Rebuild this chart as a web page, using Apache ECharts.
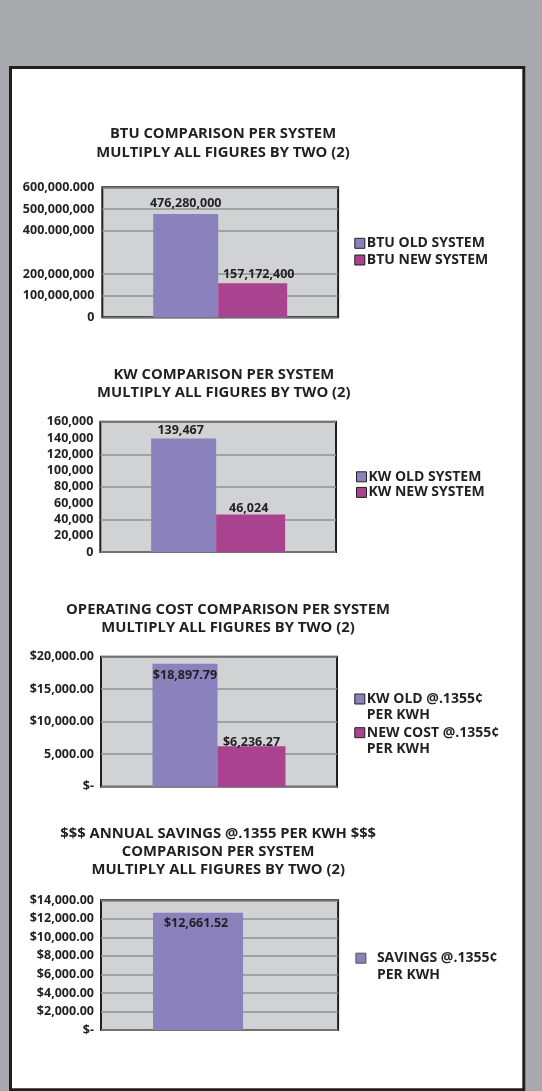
<!DOCTYPE html>
<html>
<head>
<meta charset="utf-8">
<script src="https://cdn.jsdelivr.net/npm/echarts@6/dist/echarts.min.js"></script>
<style>
html,body{margin:0;padding:0;background:#a8a9ad;}
#c{width:542px;height:1091px;}
</style>
</head>
<body>
<div id="c"></div>
<script>
// ---- Data ----
const btuNames = ['BTU OLD SYSTEM', 'BTU NEW SYSTEM'];
const btuValues = [476280000, 157172400];
const btuTicks = [0, 100000000, 200000000, 400000000, 500000000, 600000000];
const btuTickLabels = ['0', '100,000,000', '200,000,000', '400.000,000', '500,000,000', '600,000.000'];

const kwNames = ['KW OLD SYSTEM', 'KW NEW SYSTEM'];
const kwValues = [139467, 46024];
const kwTicks = [0, 20000, 40000, 60000, 80000, 100000, 120000, 140000, 160000];
const kwTickLabels = ['0', '20,000', '40,000', '60,000', '80,000', '100,000', '120,000', '140,000', '160,000'];

const costNames = ['KW OLD @.1355\u00a2\nPER KWH', 'NEW COST @.1355\u00a2\nPER KWH'];
const costValues = [18897.79, 6236.27];
const costTicks = [0, 5000, 10000, 15000, 20000];
const costTickLabels = ['$-', '5,000.00', '$10,000.00', '$15,000.00', '$20,000.00'];

const savingsNames = ['SAVINGS @.1355\u00a2\nPER KWH'];
const savingsValues = [12661.52];
const savingsTicks = [0, 2000, 4000, 6000, 8000, 10000, 12000, 14000];
const savingsTickLabels = ['$-', '$2,000.00', '$4,000.00', '$6,000.00', '$8,000.00', '$10,000.00', '$12,000.00', '$14,000.00'];

const titles = [
  'BTU COMPARISON PER SYSTEM\nMULTIPLY ALL FIGURES BY TWO (2)',
  'KW COMPARISON PER SYSTEM\nMULTIPLY ALL FIGURES BY TWO (2)',
  'OPERATING COST COMPARISON PER SYSTEM\nMULTIPLY ALL FIGURES BY TWO (2)',
  '$$$ ANNUAL SAVINGS @.1355 PER KWH $$$\nCOMPARISON PER SYSTEM\nMULTIPLY ALL FIGURES BY TWO (2)'
];

// ---- Styles ----
const FONT = '"Open Sans", "Liberation Sans", sans-serif';
const INK = '#231f20';
const PURPLE = '#8a81bd';
const MAGENTA = '#a94390';
const PLOTBG = '#d1d2d4';
const GRIDC = '#8f9093';

function commas(n, dec) {
  const parts = n.toFixed(dec).split('.');
  parts[0] = parts[0].replace(/\B(?=(\d{3})+(?!\d))/g, ',');
  return parts.join('.');
}
function tickFmt(ticks, labels) {
  return function (v) { const i = ticks.indexOf(v); return i >= 0 ? labels[i] : ''; };
}

const gridBox = [
  {left: 102.3, top: 187.3, width: 235.8, height: 130},
  {left: 100.3, top: 421.7, width: 235.7, height: 130.3},
  {left: 101, top: 656.7, width: 236, height: 130},
  {left: 101, top: 900.3, width: 237.1, height: 129.7}
];
const grids = gridBox.map(g => Object.assign({
  show: true, backgroundColor: PLOTBG, borderColor: INK, borderWidth: 2, containLabel: false
}, g));

const xAxes = [0, 1, 2, 3].map(i => ({
  type: 'category', gridIndex: i, data: ['a'], show: false
}));

const tickLabelStyle = {color: INK, fontFamily: FONT, fontWeight: 'bold', fontSize: 12.5};

const yAxes = [
  {type: 'value', gridIndex: 0, min: 0, max: 600000000,
    axisLine: {show: false}, axisTick: {show: false, customValues: btuTicks},
    axisLabel: Object.assign({margin: 8, customValues: btuTicks, formatter: tickFmt(btuTicks, btuTickLabels)}, tickLabelStyle),
    splitLine: {show: true, lineStyle: {color: GRIDC, width: 1.5}}},
  {type: 'value', gridIndex: 1, min: 0, max: 160000, interval: 20000,
    axisLine: {show: false}, axisTick: {show: false},
    axisLabel: Object.assign({margin: 7, formatter: tickFmt(kwTicks, kwTickLabels)}, tickLabelStyle),
    splitLine: {show: false}},
  {type: 'value', gridIndex: 1, min: 0, max: 160000, interval: 40000,
    axisLine: {show: false}, axisTick: {show: false}, axisLabel: {show: false},
    splitLine: {show: true, lineStyle: {color: GRIDC, width: 1.5}}},
  {type: 'value', gridIndex: 2, min: 0, max: 20000, interval: 5000,
    axisLine: {show: false}, axisTick: {show: false},
    axisLabel: Object.assign({margin: 7, formatter: tickFmt(costTicks, costTickLabels)}, tickLabelStyle),
    splitLine: {show: true, lineStyle: {color: GRIDC, width: 1.5}}},
  {type: 'value', gridIndex: 3, min: 0, max: 14000, interval: 2000,
    axisLine: {show: false}, axisTick: {show: false},
    axisLabel: Object.assign({margin: 7, formatter: tickFmt(savingsTicks, savingsTickLabels)}, tickLabelStyle),
    splitLine: {show: true, lineStyle: {color: GRIDC, width: 1.5}}}
];

const valLabel = (fmt, extra) => Object.assign({
  show: true, color: INK, fontFamily: FONT, fontWeight: 'bold', fontSize: 12.5, formatter: p => fmt(p.value)
}, extra);

const series = [
  {type: 'bar', name: btuNames[0], xAxisIndex: 0, yAxisIndex: 0, data: [btuValues[0]], barWidth: 65, barGap: 0,
    itemStyle: {color: PURPLE}, label: valLabel(v => commas(v, 0), {position: 'top', distance: 4})},
  {type: 'bar', name: btuNames[1], xAxisIndex: 0, yAxisIndex: 0, data: [btuValues[1]], barWidth: 69, barGap: 0,
    itemStyle: {color: MAGENTA}, label: valLabel(v => commas(v, 0), {position: 'top', distance: 2, offset: [6, 0]})},
  {type: 'bar', name: kwNames[0], xAxisIndex: 1, yAxisIndex: 1, data: [kwValues[0]], barWidth: 65, barGap: 0,
    itemStyle: {color: PURPLE}, label: valLabel(v => commas(v, 0), {position: 'top', distance: 1, offset: [-3, 0]})},
  {type: 'bar', name: kwNames[1], xAxisIndex: 1, yAxisIndex: 1, data: [kwValues[1]], barWidth: 69, barGap: 0,
    itemStyle: {color: MAGENTA}, label: valLabel(v => commas(v, 0), {position: 'top', distance: 0, offset: [-2, 0]})},
  {type: 'bar', name: costNames[0], xAxisIndex: 2, yAxisIndex: 3, data: [costValues[0]], barWidth: 65, barGap: 0,
    itemStyle: {color: PURPLE}, label: valLabel(v => '$' + commas(v, 2), {position: 'insideTop', distance: 5})},
  {type: 'bar', name: costNames[1], xAxisIndex: 2, yAxisIndex: 3, data: [costValues[1]], barWidth: 68, barGap: 0,
    itemStyle: {color: MAGENTA}, label: valLabel(v => '$' + commas(v, 2), {position: 'top', distance: -3})},
  {type: 'bar', name: savingsNames[0], xAxisIndex: 3, yAxisIndex: 4, data: [savingsValues[0]], barWidth: 90, barGap: 0,
    itemStyle: {color: PURPLE}, label: valLabel(v => '$' + commas(v, 2), {position: 'insideTop', distance: 4, offset: [-2, 0]})},
  // empty slot so the single bar sits left of centre as in the original
  {type: 'bar', name: 'slot', xAxisIndex: 3, yAxisIndex: 4, data: ['-'], barWidth: 43, barGap: 0, silent: true}
];

const titleBoxes = [
  {left: 223, top: 124.6, lh: 18.7},
  {left: 223.8, top: 365.8, lh: 18.3},
  {left: 228, top: 600.8, lh: 18.3},
  {left: 218.2, top: 824.3, lh: 18}
];
const titleComps = titles.map((t, i) => ({
  text: t, left: titleBoxes[i].left, top: titleBoxes[i].top, textAlign: 'center', padding: 0,
  textStyle: {color: INK, fontFamily: FONT, fontWeight: 'bold', fontSize: 14.8, lineHeight: titleBoxes[i].lh}
}));

const legendText = (lh, pad) => ({color: INK, fontFamily: FONT, fontWeight: 'bold', fontSize: 14, lineHeight: lh, padding: pad});
const legendBase = {orient: 'vertical', padding: 0, itemWidth: 10, itemHeight: 10, icon: 'rect', selectedMode: false,
  itemStyle: {borderColor: INK, borderWidth: 1}};
// a blank first line keeps the swatch level with the first line of a two-line entry
const firstLineAligned = name => '\n' + name;
const legends = [
  Object.assign({}, legendBase, {data: btuNames, left: 354.3, top: 235.3, itemGap: 0.7, textStyle: legendText(16, [0, 0, 0, -3])}),
  Object.assign({}, legendBase, {data: kwNames, left: 356, top: 469, itemGap: 0, textStyle: legendText(15.6, [0, 0, 0, -3])}),
  Object.assign({}, legendBase, {data: costNames, left: 354.3, top: 675, itemGap: -14.3, formatter: firstLineAligned,
    textStyle: legendText(16, [0, 0, 0, -3])}),
  Object.assign({}, legendBase, {data: savingsNames, left: 355.4, top: 932.7, itemGap: 0, formatter: firstLineAligned,
    textStyle: legendText(17, [0, 0, 0, 6]),
    itemStyle: {borderColor: '#55535a', borderWidth: 1}})
];

const chart = echarts.init(document.getElementById('c'), null, {renderer: 'canvas'});
chart.setOption({
  backgroundColor: '#a8a9ad',
  animation: false,
  graphic: [{
    type: 'rect', z: -10, silent: true,
    shape: {x: 10.5, y: 67.5, width: 513.3, height: 1022.3},
    style: {fill: '#ffffff', stroke: INK, lineWidth: 3}
  }],
  title: titleComps,
  legend: legends,
  grid: grids,
  xAxis: xAxes,
  yAxis: yAxes,
  series: series
});
</script>
</body>
</html>
